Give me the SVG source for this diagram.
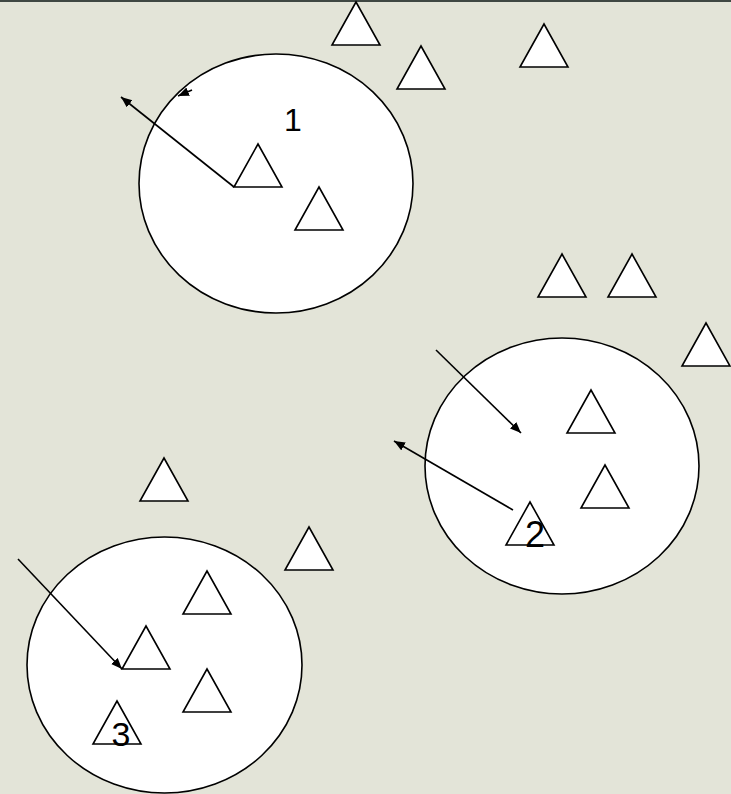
<svg xmlns="http://www.w3.org/2000/svg" width="731" height="794" viewBox="0 0 731 794">
<defs>
<style>
.c{fill:#ffffff;stroke:#000;stroke-width:1.6}
.t{fill:#ffffff;stroke:#000;stroke-width:1.6;stroke-linejoin:miter}
.a{fill:none;stroke:#000;stroke-width:1.6;marker-end:url(#ah)}
.l{font-family:"Liberation Sans",Arial,sans-serif;fill:#000;text-anchor:middle}
</style>
<marker id="ah" markerUnits="userSpaceOnUse" markerWidth="12" markerHeight="10" refX="11" refY="4.5" orient="auto">
<path d="M0,0 L11,4.5 L0,9 Z" fill="#000"/>
</marker>
<polygon id="tri" points="0,0 24,43 -24,43" class="t"/>
</defs>
<rect x="0" y="0" width="731" height="794" fill="#e3e4d8"/>
<rect x="0" y="0" width="731" height="2" fill="#3f4743"/>
<g id="circle1"><ellipse class="c" cx="276" cy="183.5" rx="137" ry="129.5"/></g>
<g id="circle2"><ellipse class="c" cx="562" cy="466" rx="137" ry="128"/></g>
<g id="circle3"><ellipse class="c" cx="164.5" cy="665" rx="137.5" ry="128"/></g>
<g id="tri1"><use href="#tri" x="356" y="2"/></g>
<g id="tri2"><use href="#tri" x="421" y="46"/></g>
<g id="tri3"><use href="#tri" x="544" y="24"/></g>
<g id="tri4"><use href="#tri" x="258" y="144"/></g>
<g id="tri5"><use href="#tri" x="319" y="187"/></g>
<g id="tri6"><use href="#tri" x="562" y="254"/></g>
<g id="tri7"><use href="#tri" x="632" y="254"/></g>
<g id="tri8"><use href="#tri" x="706" y="323"/></g>
<g id="tri9"><use href="#tri" x="591" y="390"/></g>
<g id="tri10"><use href="#tri" x="605" y="465"/></g>
<g id="tri11"><use href="#tri" x="530" y="502"/></g>
<g id="tri12"><use href="#tri" x="164" y="458"/></g>
<g id="tri13"><use href="#tri" x="309" y="527"/></g>
<g id="tri14"><use href="#tri" x="207" y="571"/></g>
<g id="tri15"><use href="#tri" x="146" y="626"/></g>
<g id="tri16"><use href="#tri" x="207" y="669"/></g>
<g id="tri17"><use href="#tri" x="117" y="701"/></g>
<g id="label1"><text class="l" x="293" y="131" font-size="32">1</text></g>
<g id="label2"><text class="l" x="535" y="547" font-size="36">2</text></g>
<g id="label3"><text class="l" x="121" y="746" font-size="34">3</text></g>
<g id="connectors">
<line class="a" x1="234" y1="187" x2="121" y2="97"/>
<line class="a" x1="192" y1="90" x2="178" y2="96"/>
<line class="a" x1="436" y1="350" x2="521" y2="433"/>
<line class="a" x1="513" y1="510" x2="394" y2="441"/>
<line class="a" x1="18" y1="559" x2="122" y2="669"/>
</g>
</svg>
